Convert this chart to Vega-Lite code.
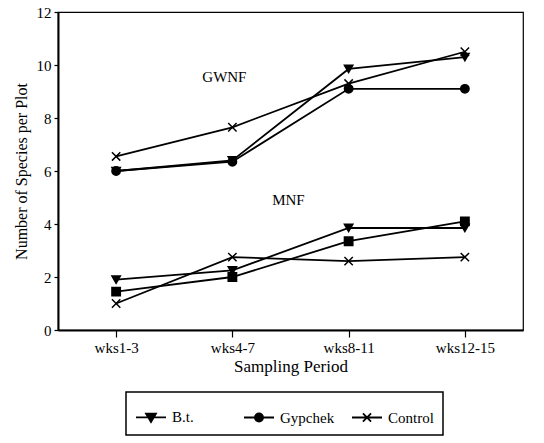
{
  "$schema": "https://vega.github.io/schema/vega-lite/v6.json",
  "width": 465,
  "height": 318,
  "autosize": {"type": "none"},
  "padding": {"left": 58, "top": 12, "right": 21, "bottom": 113},
  "background": "white",
  "config": {
    "view": {"stroke": "black", "strokeWidth": 1.2},
    "font": "Liberation Serif",
    "axis": {
      "grid": false,
      "domainColor": "black",
      "domainWidth": 2,
      "tickColor": "black",
      "tickWidth": 1.2,
      "labelColor": "black",
      "titleColor": "black",
      "labelFont": "Liberation Serif",
      "titleFont": "Liberation Serif",
      "titleFontWeight": "normal",
      "labelFontSize": 15
    }
  },
  "data": {
    "values": [
      {"Forest": "GWNF", "Treatment": "B.t.", "Marker": "tri", "Period": "wks1-3", "Species": 6.0},
      {"Forest": "GWNF", "Treatment": "B.t.", "Marker": "tri", "Period": "wks4-7", "Species": 6.4},
      {"Forest": "GWNF", "Treatment": "B.t.", "Marker": "tri", "Period": "wks8-11", "Species": 9.85},
      {"Forest": "GWNF", "Treatment": "B.t.", "Marker": "tri", "Period": "wks12-15", "Species": 10.3},
      {"Forest": "GWNF", "Treatment": "Gypchek", "Marker": "circle", "Period": "wks1-3", "Species": 6.0},
      {"Forest": "GWNF", "Treatment": "Gypchek", "Marker": "circle", "Period": "wks4-7", "Species": 6.35},
      {"Forest": "GWNF", "Treatment": "Gypchek", "Marker": "circle", "Period": "wks8-11", "Species": 9.1},
      {"Forest": "GWNF", "Treatment": "Gypchek", "Marker": "circle", "Period": "wks12-15", "Species": 9.1},
      {"Forest": "GWNF", "Treatment": "Control", "Marker": "x", "Period": "wks1-3", "Species": 6.55},
      {"Forest": "GWNF", "Treatment": "Control", "Marker": "x", "Period": "wks4-7", "Species": 7.65},
      {"Forest": "GWNF", "Treatment": "Control", "Marker": "x", "Period": "wks8-11", "Species": 9.3},
      {"Forest": "GWNF", "Treatment": "Control", "Marker": "x", "Period": "wks12-15", "Species": 10.5},
      {"Forest": "MNF", "Treatment": "B.t.", "Marker": "tri", "Period": "wks1-3", "Species": 1.9},
      {"Forest": "MNF", "Treatment": "B.t.", "Marker": "tri", "Period": "wks4-7", "Species": 2.25},
      {"Forest": "MNF", "Treatment": "B.t.", "Marker": "tri", "Period": "wks8-11", "Species": 3.85},
      {"Forest": "MNF", "Treatment": "B.t.", "Marker": "tri", "Period": "wks12-15", "Species": 3.85},
      {"Forest": "MNF", "Treatment": "Gypchek", "Marker": "square", "Period": "wks1-3", "Species": 1.45},
      {"Forest": "MNF", "Treatment": "Gypchek", "Marker": "square", "Period": "wks4-7", "Species": 2.0},
      {"Forest": "MNF", "Treatment": "Gypchek", "Marker": "square", "Period": "wks8-11", "Species": 3.35},
      {"Forest": "MNF", "Treatment": "Gypchek", "Marker": "square", "Period": "wks12-15", "Species": 4.1},
      {"Forest": "MNF", "Treatment": "Control", "Marker": "x", "Period": "wks1-3", "Species": 1.0},
      {"Forest": "MNF", "Treatment": "Control", "Marker": "x", "Period": "wks4-7", "Species": 2.75},
      {"Forest": "MNF", "Treatment": "Control", "Marker": "x", "Period": "wks8-11", "Species": 2.6},
      {"Forest": "MNF", "Treatment": "Control", "Marker": "x", "Period": "wks12-15", "Species": 2.75}
    ]
  },
  "encoding": {
    "x": {
      "field": "Period",
      "type": "ordinal",
      "sort": ["wks1-3", "wks4-7", "wks8-11", "wks12-15"],
      "scale": {"type": "point", "padding": 0.5},
      "axis": {"title": "Sampling Period", "titleFontSize": 17, "labelAngle": 0, "tickSize": 7, "labelPadding": 3, "titlePadding": 3}
    },
    "y": {
      "field": "Species",
      "type": "quantitative",
      "scale": {"domain": [0, 12], "nice": false},
      "axis": {"title": "Number of Species per Plot", "titleFontSize": 16, "values": [0, 2, 4, 6, 8, 10, 12], "tickSize": 4, "labelPadding": 3, "titlePadding": 7}
    }
  },
  "layer": [
    {
      "mark": {"type": "line", "strokeWidth": 1.8},
      "encoding": {
        "detail": {"field": "Forest"},
        "color": {
          "field": "Treatment",
          "type": "nominal",
          "scale": {"domain": ["B.t.", "Gypchek", "Control"], "range": ["black", "black", "black"]},
          "legend": {
            "orient": "none",
            "legendX": 68,
            "legendY": 380,
            "direction": "horizontal",
            "title": null,
            "symbolSize": 900,
            "symbolStrokeWidth": 1.8,
            "labelFontSize": 15,
            "labelFont": "Liberation Serif",
            "labelColor": "black",
            "strokeColor": "black",
            "padding": 9,
            "columnPadding": 13,
            "gridAlign": "all",
            "labelOffset": 5,
            "encode": {
              "legend": {"update": {"strokeWidth": {"value": 1.5}}},
              "symbols": {
                "update": {
                  "shape": {"signal": "datum.value === 'B.t.' ? 'M-1,0H1M-0.33,-0.25H0.33L0,0.3Z' : (datum.value === 'Gypchek' ? 'M-1,0H1M-0.27,0A0.27,0.27 0 1,0 0.27,0A0.27,0.27 0 1,0 -0.27,0Z' : 'M-1,0H1M-0.27,-0.27L0.27,0.27M-0.27,0.27L0.27,-0.27')"},
                  "fill": {"value": "black"},
                  "stroke": {"value": "black"},
                  "opacity": {"value": 1}
                }
              }
            }
          }
        }
      }
    },
    {
      "mark": {"type": "point", "filled": true, "color": "black", "stroke": "black", "strokeWidth": 1.5, "size": 70, "opacity": 1},
      "encoding": {
        "shape": {
          "field": "Marker",
          "type": "nominal",
          "scale": {"domain": ["tri", "circle", "square", "x"], "range": ["triangle-down", "circle", "square", "M-1,-1L1,1M-1,1L1,-1"]},
          "legend": null
        }
      }
    },
    {
      "data": {"values": [{"Label": "GWNF", "Period": "wks4-7", "Species": 9.55}]},
      "mark": {"type": "text", "font": "Liberation Serif", "fontSize": 15, "color": "black", "dx": -8, "baseline": "middle", "align": "center"},
      "encoding": {"text": {"field": "Label"}}
    },
    {
      "data": {"values": [{"Label": "MNF", "Period": "wks4-7", "Species": 4.9}]},
      "mark": {"type": "text", "font": "Liberation Serif", "fontSize": 15, "color": "black", "dx": 56, "baseline": "middle", "align": "center"},
      "encoding": {"text": {"field": "Label"}}
    }
  ]
}
